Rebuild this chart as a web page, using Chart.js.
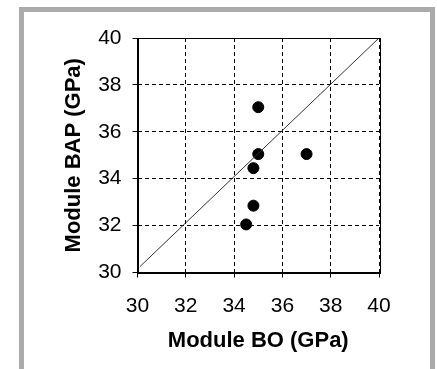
<!DOCTYPE html>
<html>
<head>
<meta charset="utf-8">
<script src="https://cdn.jsdelivr.net/npm/chart.js@4/dist/chart.umd.min.js"></script>
<style>
  html, body { margin: 0; padding: 0; background: #fff; width: 437px; height: 369px; overflow: hidden; }
  #frame { position: absolute; left: 19px; top: 7px; width: 416px; height: 420px; box-sizing: border-box;
           border: 5px solid #aaaaaa; border-bottom: none; background: #fff; }
  #wrap { position: absolute; left: 0; top: 0; width: 406px; height: 357px; }
</style>
</head>
<body>
<div id="frame"><div id="wrap"><canvas id="c" width="406" height="357"></canvas></div></div>
<script>
// Data
const moduleBO  = [35.0, 35.0, 37.0, 34.8, 34.8, 34.5];
const moduleBAP = [37.05, 35.05, 35.05, 34.45, 32.85, 32.05];
const refLineX = [30.1, 40];
const refLineY = [30.25, 40];
const tickValues = [30, 32, 34, 36, 38, 40];
const xTitle = 'Module BO (GPa)';
const yTitle = 'Module BAP (GPa)';

const points = moduleBO.map((x, i) => ({ x: x, y: moduleBAP[i] }));
const linePts = refLineX.map((x, i) => ({ x: x, y: refLineY[i] }));

const FONT = "'Liberation Sans', Arial, sans-serif";

const boxPlugin = {
  id: 'box',
  afterDraw(chart) {
    const { ctx, chartArea: a } = chart;
    ctx.save();
    ctx.strokeStyle = '#000';
    ctx.lineWidth = 1;
    ctx.strokeRect(Math.round(a.left) + 0.5, Math.round(a.top) + 0.5,
                   Math.round(a.right - a.left), Math.round(a.bottom - a.top));
    ctx.restore();
  }
};

function gridOpts() {
  return {
    color: '#000',
    lineWidth: 1,
    drawTicks: true,
    tickLength: 5,
    tickColor: '#000',
    tickWidth: 1
  };
}

new Chart(document.getElementById('c'), {
  type: 'scatter',
  data: {
    datasets: [
      {
        type: 'line',
        data: linePts,
        borderColor: '#333',
        borderWidth: 1,
        pointRadius: 0,
        fill: false,
        tension: 0
      },
      {
        data: points,
        backgroundColor: '#000',
        borderColor: '#000',
        pointRadius: 5.5,
        pointHoverRadius: 5.5
      }
    ]
  },
  options: {
    responsive: false,
    animation: false,
    devicePixelRatio: 1,
    layout: { padding: { left: 0, top: 26, right: 51, bottom: 0 } },
    plugins: { legend: { display: false }, tooltip: { enabled: false } },
    scales: {
      x: {
        type: 'linear',
        min: 30, max: 40,
        afterBuildTicks(scale) { scale.ticks = tickValues.map(v => ({ value: v })); },
        afterFit(scale) { scale.height = 96.5; },
        grid: gridOpts(),
        border: { display: true, color: '#000', width: 1, dash: [4, 3] },
        ticks: { color: '#000', font: { family: FONT, size: 21 }, padding: 16, maxRotation: 0 },
        title: { display: true, text: xTitle, color: '#000',
                 font: { family: FONT, size: 22, weight: 'bold' }, padding: { top: 0, bottom: 15 } }
      },
      y: {
        type: 'linear',
        min: 30, max: 40,
        afterBuildTicks(scale) { scale.ticks = tickValues.map(v => ({ value: v })); },
        afterFit(scale) { scale.width = 113.5; },
        grid: gridOpts(),
        border: { display: true, color: '#000', width: 1, dash: [4, 3] },
        ticks: { color: '#000', font: { family: FONT, size: 21 }, padding: 11 },
        title: { display: true, text: yTitle, color: '#000',
                 font: { family: FONT, size: 22, weight: 'bold' }, padding: { top: 37, bottom: 0 } }
      }
    }
  },
  plugins: [boxPlugin]
});
</script>
</body>
</html>
